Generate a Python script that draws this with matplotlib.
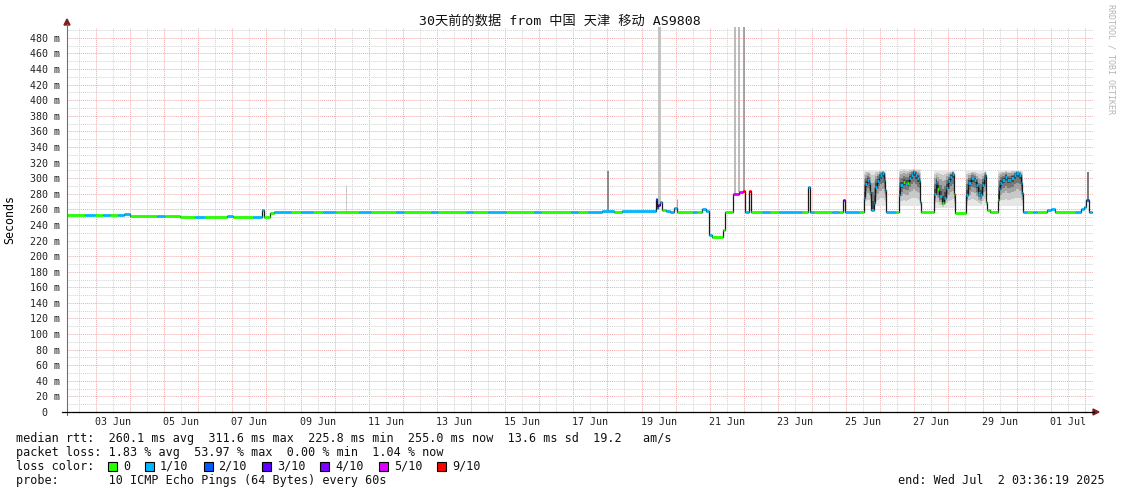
import numpy as np
import matplotlib
matplotlib.use('Agg')
import matplotlib.pyplot as plt
from matplotlib.patches import Polygon, Rectangle
from matplotlib.lines import Line2D
from datetime import datetime, timedelta

W, H = 1121, 494

# median rtt steps: start of step (days after start), value (ms), loss class
t = [0.000, 0.529, 0.824, 1.059, 1.265, 1.500, 1.676, 1.853, 2.647, 2.882,
     3.324, 3.765, 4.059, 4.706, 4.882, 5.441, 5.706, 5.765, 5.941, 6.059,
     6.559, 6.853, 7.206, 7.500, 7.882, 8.559, 8.912, 9.647, 9.882, 10.676,
     10.882, 11.706, 11.912, 12.353, 12.882, 13.706, 13.912, 14.794, 15.000, 15.294,
     15.676, 16.029, 16.265, 17.265, 17.294, 17.324, 17.382, 17.441, 17.559, 17.676,
     17.794, 17.882, 18.353, 18.471, 18.618, 18.735, 18.824, 18.912, 19.235, 19.294,
     19.529, 19.706, 19.824, 19.882, 20.000, 20.059, 20.382, 20.618, 20.882, 21.559,
     21.735, 21.794, 21.912, 22.441, 22.647, 22.765, 22.824, 23.235, 23.382, 23.412,
     23.471, 23.529, 23.559, 23.588, 23.676, 23.706, 23.765, 23.824, 23.853, 23.912,
     23.971, 24.000, 24.029, 24.324, 24.412, 24.441, 24.529, 24.588, 24.647, 24.706,
     24.765, 24.824, 24.882, 24.941, 25.000, 25.029, 25.059, 25.441, 25.471, 25.529,
     25.588, 25.647, 25.706, 25.765, 25.824, 25.882, 25.941, 26.000, 26.029, 26.353,
     26.412, 26.500, 26.588, 26.647, 26.706, 26.765, 26.824, 26.882, 26.912, 26.941,
     26.971, 27.059, 27.294, 27.324, 27.353, 27.412, 27.500, 27.559, 27.618, 27.676,
     27.765, 27.824, 27.912, 27.971, 28.000, 28.029, 28.147, 28.324, 28.441, 28.735,
     28.853, 28.971, 29.559, 29.735, 29.824, 29.882, 29.970]
med = [253, 253, 253, 253, 253, 253, 254, 252, 252, 251.5,
       250, 250, 250, 251, 250, 250, 259, 250, 255, 257,
       257, 257, 257, 257, 257, 257, 257, 257, 257, 257,
       257, 257, 257, 257, 257, 257, 257, 256, 257, 257,
       258, 257, 258, 273, 262, 266, 270, 259, 258, 257,
       262, 257, 257, 257, 260, 258, 227, 225, 234, 257,
       280, 282, 284, 257, 284, 257, 257, 257, 257, 257,
       289, 257, 257, 257, 257, 272, 257, 257, 275, 292,
       298, 294, 282, 259, 268, 289, 296, 302, 304, 307,
       298, 285, 257, 257, 278, 291, 295, 293, 294, 300,
       304, 308, 304, 300, 297, 270, 257, 280, 294, 286,
       277, 268, 274, 288, 296, 302, 306, 280, 255, 278,
       294, 300, 298, 291, 281, 278, 291, 300, 304, 270,
       259, 257, 272, 286, 294, 298, 302, 298, 298, 300,
       304, 307, 304, 294, 281, 257, 256, 257, 256, 259,
       260, 256, 257, 260, 263, 272, 257]
loss = [0, 1, 0, 1, 0, 1, 1, 0, 1, 0,
        0, 1, 0, 1, 0, 1, 1, 0, 0, 1,
        0, 1, 0, 1, 0, 1, 0, 1, 0, 1,
        0, 1, 0, 1, 0, 1, 0, 1, 0, 1,
        1, 0, 1, 2, 1, 3, 1, 0, 1, 1,
        1, 0, 1, 0, 1, 1, 1, 0, 0, 0,
        5, 5, 6, 1, 6, 0, 1, 0, 1, 0,
        1, 1, 0, 1, 0, 4, 1, 0, 1, 1,
        1, 1, 1, 1, 1, 1, 1, 1, 1, 1,
        1, 1, 1, 0, 1, 1, 0, 1, 0, 1,
        1, 1, 1, 1, 1, 1, 0, 1, 1, 0,
        1, 0, 1, 1, 1, 1, 1, 0, 0, 1,
        1, 1, 1, 1, 1, 1, 1, 1, 1, 0,
        0, 0, 0, 1, 1, 1, 1, 1, 1, 1,
        1, 1, 1, 1, 1, 1, 0, 1, 0, 1,
        1, 0, 1, 1, 1, 2, 1]
t_end = 30.05

# smoke (ping spread) during the evening congestion periods
smoke_start = [23.382, 24.412, 25.441, 26.353, 27.294]
smoke_end = [24.029, 25.059, 26.029, 26.971, 28.029]
smoke_lo = [264, 264, 262, 264, 264]
smoke_hi = [310, 312, 309, 309, 310]

# single outlier pings
spike_day = [8.176, 15.853, 17.368, 17.897, 19.603, 19.706, 19.853, 29.94]
spike_top = [291, 309, 520, 273, 520, 520, 520, 308]
spike_shade = ['#c8c8c8', '#8c8c8c', '#c4c4c4', '#a8a8a8', '#bbbbbb', '#bbbbbb', '#8c8c8c', '#7c7c7c']
spike_px = [1, 2, 3, 1, 2, 2, 1.5, 2]

loss_labels = ['0', '1/10', '2/10', '3/10', '4/10', '5/10', '9/10']
loss_colors = ['#26ff00', '#00b8ff', '#0059ff', '#5e00ff', '#7e00ff', '#dd00ff', '#ff0000']

start = datetime(2025, 6, 2, 3, 36, 19)
title = '30天前的数据 from 中国 天津 移动 AS9808'
stat_rows = [
    'median rtt:  260.1 ms avg  311.6 ms max  225.8 ms min  255.0 ms now  13.6 ms sd  19.2   am/s',
    'packet loss: 1.83 % avg  53.97 % max  0.00 % min  1.04 % now',
    'loss color:',
    'probe:       10 ICMP Echo Pings (64 Bytes) every 60s',
]
end_text = 'end: Wed Jul  2 03:36:19 2025'

plt.rcParams['font.family'] = ['DejaVu Sans Mono', 'Noto Sans CJK SC']

fig = plt.figure(figsize=(W / 100, H / 100), dpi=100)
ax = fig.add_axes([67 / W, 1 - 412 / H, 1026 / W, 385 / H])
ax.set_xlim(0, 30.09)
ax.set_ylim(0, 494)
for s in ax.spines.values():
    s.set_visible(False)

# grid: red at midnight / every 20 ms, grey at noon / 10 ms
mid0 = (datetime(2025, 6, 3) - start).total_seconds() / 86400
midnights = mid0 + np.arange(30)
noons = mid0 - 0.5 + np.arange(30)
noon_labels = []
for i in range(30):
    d = datetime(2025, 6, 2) + timedelta(days=i)
    noon_labels.append(d.strftime('%d %b') if i % 2 == 1 else '')
ax.set_xticks(midnights)
ax.set_xticklabels([])
ax.set_xticks(noons, minor=True)
ax.set_xticklabels(noon_labels, minor=True)
yt = np.arange(0, 481, 20)
ax.set_yticks(yt)
ax.set_yticklabels(['0  ' if v == 0 else '%d m' % v for v in yt])
ax.set_yticks(np.arange(10, 494, 20), minor=True)
ax.tick_params(axis='y', which='both', length=0, pad=5.0, labelsize=7.2, labelcolor='#222222')
ax.tick_params(axis='x', which='major', length=2, color='#f2a8a8', direction='inout')
ax.tick_params(axis='x', which='minor', length=2, color='#cccccc', direction='inout',
               pad=2.5, labelsize=7.2, labelcolor='#222222')
ax.grid(True, which='major', color='#f2aaaa', linestyle=(0, (1, 1)), linewidth=0.7)
ax.grid(True, which='minor', color='#d2d2d2', linestyle=(0, (1, 1)), linewidth=0.7)
ax.set_axisbelow(True)

t_arr = np.array(t + [t_end])
med_arr = np.array(med, dtype=float)
med_step = np.append(med_arr, med_arr[-1])

# smoke layers, light on the outside, dark near the median
smoke_layers = [(1.0, 1.0, '#e6e6e6'), (0.75, 0.88, '#c8c8c8'), (0.5, 0.68, '#a2a2a2'),
                (0.3, 0.45, '#777777'), (0.12, 0.22, '#4a4a4a')]
for s0, s1, lo, hi in zip(smoke_start, smoke_end, smoke_lo, smoke_hi):
    idx = np.where((t_arr[:-1] >= s0 - 1e-6) & (t_arr[:-1] < s1 - 1e-6))[0]
    xs = np.append(t_arr[idx], t_arr[idx[-1] + 1])
    m = np.append(med_arr[idx], med_arr[idx[-1]])
    lo_gap = np.clip(m - lo, 0, None)
    hi_gap = np.clip(hi - m, 0, None)
    for flo, fhi, col in smoke_layers:
        ax.fill_between(xs, m - flo * lo_gap, m + fhi * hi_gap, step='post',
                        color=col, lw=0, zorder=1)

for d, top, col, wpx in zip(spike_day, spike_top, spike_shade, spike_px):
    i = np.searchsorted(t_arr, d, side='right') - 1
    ax.vlines(d, med_arr[i], top, color=col, lw=wpx * 0.72, zorder=1.5)

ax.step(t_arr, med_step, where='post', color='#1a1a1a', lw=0.9, zorder=2)
ax.hlines(med_arr, t_arr[:-1], t_arr[1:], colors=[loss_colors[c] for c in loss],
          lw=2.0, zorder=3)


def fx(px):
    return px / W


def fy(py):
    return 1 - py / H


# axes with arrows
fig.add_artist(Line2D([fx(67), fx(67)], [fy(415), fy(24)], color='#707070', lw=0.8))
fig.add_artist(Line2D([fx(62), fx(1094)], [fy(412), fy(412)], color='#000000', lw=0.9))
fig.add_artist(Polygon([(fx(64), fy(25)), (fx(67), fy(19)), (fx(70), fy(25))],
                       closed=True, color='#802020', transform=fig.transFigure))
fig.add_artist(Polygon([(fx(1093), fy(409)), (fx(1099), fy(412)), (fx(1093), fy(415))],
                       closed=True, color='#802020', transform=fig.transFigure))

fig.text(fx(560), fy(21), title, ha='center', va='center', fontsize=9.5, color='#111111')
fig.text(fx(10), fy(219), 'Seconds', rotation=90, ha='center', va='center', fontsize=8.4)
fig.text(fx(1111), fy(4), 'RRDTOOL / TOBI OETIKER', rotation=270, ha='center', va='top',
         fontsize=6, color='#b4b4b4')

row_y = [438, 452, 466, 480]
for row, y in zip(stat_rows, row_y):
    fig.text(fx(16), fy(y), row, ha='left', va='center', fontsize=8.5, color='#111111')
fig.text(fx(1105), fy(row_y[3]), end_text, ha='right', va='center', fontsize=8.5, color='#111111')

x = 108
for lab, col in zip(loss_labels, loss_colors):
    fig.add_artist(Rectangle((fx(x), fy(row_y[2] + 4.5)), 9 / W, 9 / H, facecolor=col,
                             edgecolor='black', lw=0.8, transform=fig.transFigure))
    fig.text(fx(x + 15), fy(row_y[2]), lab, ha='left', va='center', fontsize=8.5, color='#111111')
    x = x + 15 + len(lab) * 7.1 + 15

fig.savefig('out.png', dpi=100)
